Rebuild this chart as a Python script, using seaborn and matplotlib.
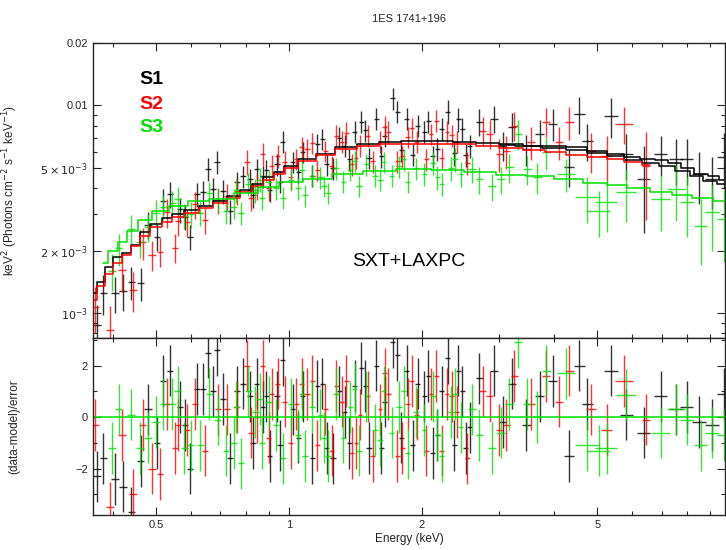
import numpy as np
import seaborn as sns
import matplotlib
matplotlib.use("Agg")
import matplotlib.pyplot as plt
from matplotlib.ticker import FixedLocator, FixedFormatter, NullFormatter

# ---------------- S1 (black) : energy (keV), half bin width, flux (1e-3), rel. error, residual
s1_energy = [0.368, 0.380, 0.404, 0.421, 0.440, 0.462,
             0.480, 0.503, 0.519, 0.538, 0.567, 0.582, 0.597, 0.619, 0.639, 0.656, 0.673,
             0.687, 0.709, 0.736, 0.763, 0.787, 0.816, 0.846, 0.873, 0.906, 0.940, 0.969,
             1.02, 1.076, 1.13, 1.19, 1.26, 1.34, 1.41, 1.46, 1.52, 1.58, 1.65, 1.72,
             1.76, 1.85, 1.91, 1.96, 2.03, 2.12, 2.22, 2.29, 2.37, 2.47, 2.57,
             2.70, 2.92, 3.05, 3.21, 3.45, 3.70, 3.96, 4.32, 4.55, 4.75,
             5.38, 5.82, 6.38, 6.97, 7.54, 7.98, 8.51, 9.10, 9.70,
             # extra bins in the crowded middle
             0.83, 0.89, 0.955, 1.05, 1.16, 1.22, 1.30, 1.37, 1.49, 1.62,
             1.80, 2.07, 2.17, 2.42, 2.52]
s1_width = [0.007, 0.007, 0.008, 0.008, 0.008, 0.009,
            0.009, 0.009, 0.009, 0.009, 0.009, 0.009, 0.010, 0.010, 0.010, 0.010, 0.010,
            0.010, 0.011, 0.011, 0.011, 0.011, 0.012, 0.012, 0.012, 0.012, 0.013, 0.013,
            0.014, 0.014, 0.015, 0.016, 0.017, 0.018, 0.018, 0.019, 0.020, 0.020, 0.021, 0.022,
            0.022, 0.023, 0.024, 0.025, 0.026, 0.027, 0.028, 0.030, 0.030, 0.032, 0.035,
            0.05, 0.06, 0.06, 0.07, 0.08, 0.09, 0.10, 0.12, 0.13, 0.14,
            0.19, 0.20, 0.22, 0.24, 0.27, 0.28, 0.30, 0.32, 0.34,
            0.012, 0.012, 0.013, 0.014, 0.015, 0.016, 0.017, 0.018, 0.019, 0.020,
            0.022, 0.026, 0.027, 0.030, 0.032]
s1_flux = [0.88, 1.25, 1.25, 1.28, 1.41, 1.40,
           2.67, 2.34, 3.46, 3.74, 3.16, 2.92, 2.34, 3.74, 3.82, 4.95, 3.96,
           5.35, 3.87, 3.10, 4.28, 4.57, 4.42, 4.95, 4.57, 3.90, 5.20, 6.70,
           5.35, 5.98, 4.60, 6.90, 5.00, 6.40, 7.48, 8.36, 5.60, 8.65, 7.15, 10.8,
           9.35, 8.65, 5.80, 8.00, 7.48, 5.70, 7.73, 9.35, 5.90, 7.73, 6.40,
           8.36, 8.65, 6.40, 7.91, 6.18, 7.31, 8.18, 5.06, 9.14, 6.76,
           8.94, 5.85, 4.42, 5.85, 5.53, 5.53, 4.68, 4.42, 5.65,
           3.70, 4.90, 4.30, 4.80, 6.50, 5.20, 7.00, 5.50, 7.60, 5.70,
           6.10, 8.40, 6.20, 8.60, 5.80]
s1_relerr = [0.25, 0.22, 0.20, 0.20, 0.18, 0.18,
             0.15, 0.15, 0.14, 0.14, 0.14, 0.14, 0.14, 0.13, 0.13, 0.13, 0.13,
             0.13, 0.13, 0.13, 0.12, 0.12, 0.12, 0.12, 0.12, 0.12, 0.12, 0.12,
             0.12, 0.12, 0.12, 0.12, 0.12, 0.12, 0.12, 0.12, 0.12, 0.12, 0.12, 0.12,
             0.12, 0.12, 0.12, 0.12, 0.12, 0.12, 0.13, 0.13, 0.13, 0.13, 0.13,
             0.15, 0.15, 0.16, 0.16, 0.17, 0.17, 0.18, 0.20, 0.20, 0.20,
             0.22, 0.25, 0.45, 0.22, 0.25, 0.25, 0.28, 0.28, 0.30,
             0.13, 0.12, 0.12, 0.12, 0.12, 0.12, 0.12, 0.12, 0.12, 0.12,
             0.12, 0.12, 0.13, 0.13, 0.13]
s1_resid = [-2.3, -1.6, -2.4, -2.7, -3.7, -1.7,
            0.3, -1.0, 1.4, 1.8, 0.4, -0.3, -2.0, 1.1, 1.1, 2.5, 1.0,
            2.6, 0.7, -1.6, 1.0, 1.3, 0.8, 1.3, 0.4, -1.5, 0.8, 2.2,
            0.3, 0.8, -1.6, 1.3, -1.6, 0.2, 1.2, 1.9, -1.2, 2.0, 0.6, 2.9,
            2.4, 1.8, -1.1, 1.3, 0.8, -1.4, 1.0, 2.3, -1.1, 1.0, -0.4,
            1.5, 1.8, -0.2, 1.3, -0.3, 0.8, 1.4, -1.5, 2.0, 0.5,
            1.8, 0.1, -0.6, 0.8, 0.3, 0.4, -0.2, -0.3, 0.9,
            -1.0, 0.8, -1.1, -0.8, 1.2, -1.2, 1.0, -1.0, 1.2, -1.2,
            -0.8, 1.6, -0.7, 1.8, -1.2]

# ---------------- S2 (red)
s2_energy = [0.364, 0.394, 0.419, 0.444, 0.467, 0.490, 0.511, 0.530, 0.552, 0.561,
             0.588, 0.613, 0.646, 0.690, 0.724, 0.763, 0.804, 0.846, 0.873, 0.915,
             0.944, 0.979, 1.04, 1.10, 1.16, 1.21, 1.28, 1.32, 1.39, 1.45,
             1.51, 1.61, 1.68, 1.76, 1.86, 1.95, 2.05, 2.16, 2.28, 2.40,
             2.54, 2.75, 2.85, 3.00, 3.11, 3.24, 3.54, 3.83, 4.10, 4.32,
             4.84, 5.25, 5.76, 6.45,
             # extra bins in the crowded middle
             0.82, 0.90, 1.01, 1.07, 1.13, 1.25, 1.35, 1.42, 1.55, 1.65,
             1.81, 1.90, 2.10, 2.22, 2.34]
s2_width = [0.008, 0.008, 0.008, 0.009, 0.009, 0.009, 0.009, 0.009, 0.009, 0.009,
            0.010, 0.010, 0.010, 0.011, 0.011, 0.011, 0.012, 0.012, 0.012, 0.013,
            0.013, 0.013, 0.014, 0.015, 0.015, 0.016, 0.017, 0.017, 0.018, 0.018,
            0.019, 0.020, 0.021, 0.022, 0.022, 0.023, 0.024, 0.025, 0.026, 0.028,
            0.030, 0.05, 0.05, 0.05, 0.06, 0.06, 0.07, 0.08, 0.09, 0.10,
            0.12, 0.15, 0.28, 0.15,
            0.012, 0.012, 0.013, 0.014, 0.015, 0.016, 0.017, 0.018, 0.019, 0.020,
            0.022, 0.023, 0.025, 0.026, 0.027]
s2_flux = [1.07, 0.83, 1.62, 1.30, 2.19, 1.91, 1.98, 3.06, 2.07, 2.77,
           2.74, 3.34, 2.80, 3.50, 3.66, 3.87, 5.35, 4.09, 5.85, 5.12,
           5.72, 5.35, 5.53, 6.18, 4.90, 6.05, 7.15, 6.69, 5.20, 6.40,
           7.15, 6.69, 7.48, 5.40, 7.07, 6.69, 5.50, 8.45, 7.48, 6.69,
           5.30, 7.56, 7.31, 5.85, 6.05, 8.00, 6.69, 8.36, 6.69, 8.36,
           6.05, 5.72, 8.18, 5.12,
           3.60, 4.00, 4.50, 6.30, 6.60, 5.10, 7.40, 5.60, 5.40, 7.90,
           5.70, 7.80, 7.30, 5.60, 7.20]
s2_relerr = [0.25, 0.30, 0.22, 0.22, 0.18, 0.16, 0.16, 0.16, 0.16, 0.15,
             0.15, 0.15, 0.14, 0.14, 0.14, 0.14, 0.14, 0.14, 0.13, 0.13,
             0.13, 0.13, 0.12, 0.12, 0.12, 0.12, 0.12, 0.12, 0.12, 0.12,
             0.12, 0.12, 0.12, 0.12, 0.12, 0.12, 0.12, 0.12, 0.12, 0.12,
             0.13, 0.16, 0.16, 0.18, 0.18, 0.16, 0.18, 0.16, 0.18, 0.18,
             0.22, 0.25, 0.20, 0.45,
             0.14, 0.13, 0.13, 0.12, 0.12, 0.12, 0.12, 0.12, 0.12, 0.12,
             0.12, 0.12, 0.12, 0.12, 0.12]
s2_resid = [-0.3, -3.5, -0.7, -3.0, -0.3, -2.0, -2.2, 0.5, -1.2, -0.3,
            -0.5, 0.5, -1.3, 0.3, 0.3, 0.4, 2.0, 0.0, 2.0, 0.9,
            1.3, 0.6, 0.5, 0.9, -1.1, 0.3, 1.2, 0.6, -1.4, 0.1,
            0.8, 0.3, 0.9, -1.5, 0.5, 0.1, -1.3, 1.6, 0.9, 0.2,
            -1.6, 1.0, 0.8, -0.5, -0.3, 1.6, 0.5, 1.6, 0.6, 1.8,
            0.3, -0.5, 1.4, -0.1,
            -0.6, -0.8, -1.0, 1.3, 1.4, -1.3, 1.4, -1.0, -1.5, 1.7,
            -1.2, 1.4, 0.9, -1.3, 0.8]

# ---------------- S3 (green)
s3_energy = [0.398, 0.412, 0.440, 0.460, 0.480, 0.500, 0.520, 0.545, 0.560, 0.580,
             0.600, 0.630, 0.660, 0.690, 0.720, 0.750, 0.780, 0.810, 0.840, 0.870,
             0.900, 0.935, 0.970, 1.01, 1.05, 1.09, 1.13, 1.18, 1.23, 1.28,
             1.33, 1.38, 1.44, 1.50, 1.57, 1.64, 1.71, 1.78, 1.86, 1.94,
             2.03, 2.12, 2.22, 2.33, 2.45, 2.60, 2.70, 2.89, 3.03, 3.16,
             3.30, 3.47, 3.66, 3.83, 4.25, 4.75, 5.05, 5.25, 5.82, 6.97,
             7.54, 7.98, 8.58, 9.10, 9.70,
             # extra bins in the crowded middle
             0.76, 0.86, 1.07, 1.20, 1.41, 1.61, 1.82, 2.17, 2.38]
s3_width = [0.008, 0.008, 0.009, 0.009, 0.009, 0.010, 0.010, 0.010, 0.010, 0.010,
            0.011, 0.011, 0.012, 0.012, 0.012, 0.013, 0.013, 0.014, 0.014, 0.014,
            0.015, 0.015, 0.016, 0.016, 0.017, 0.017, 0.018, 0.018, 0.019, 0.020,
            0.020, 0.021, 0.022, 0.022, 0.023, 0.024, 0.025, 0.026, 0.027, 0.028,
            0.030, 0.031, 0.032, 0.034, 0.036, 0.05, 0.05, 0.06, 0.06, 0.07,
            0.07, 0.08, 0.08, 0.09, 0.20, 0.30, 0.30, 0.30, 0.30, 0.35,
            0.35, 0.30, 0.30, 0.35, 0.38,
            0.013, 0.014, 0.017, 0.018, 0.021, 0.023, 0.026, 0.031, 0.034]
s3_flux = [1.60, 2.05, 2.55, 2.20, 2.60, 3.05, 3.25, 3.40, 3.55, 2.95,
           3.00, 3.05, 3.80, 3.50, 3.10, 3.25, 3.05, 4.20, 3.90, 3.60,
           4.30, 4.00, 3.60, 4.40, 4.00, 3.70, 4.60, 4.50, 3.80, 5.00,
           4.30, 4.90, 4.10, 5.20, 4.60, 5.35, 4.60, 5.10, 4.30, 5.00,
           4.70, 5.30, 4.20, 5.00, 4.70, 4.95, 4.42, 4.09, 4.42, 5.06,
           7.30, 4.95, 4.52, 5.98, 4.68, 3.62, 3.10, 3.42, 3.82, 3.54,
           3.96, 3.42, 2.62, 3.06, 2.84,
           3.90, 4.40, 4.90, 4.10, 5.40, 4.40, 5.50, 4.50, 5.50]
s3_relerr = [0.20, 0.18, 0.16, 0.16, 0.15, 0.15, 0.14, 0.14, 0.14, 0.14,
             0.14, 0.14, 0.13, 0.13, 0.13, 0.13, 0.13, 0.13, 0.13, 0.13,
             0.12, 0.12, 0.12, 0.12, 0.12, 0.12, 0.12, 0.12, 0.12, 0.12,
             0.12, 0.12, 0.12, 0.12, 0.12, 0.12, 0.12, 0.12, 0.12, 0.12,
             0.13, 0.13, 0.13, 0.13, 0.14, 0.14, 0.15, 0.15, 0.15, 0.16,
             0.16, 0.16, 0.17, 0.18, 0.18, 0.25, 0.25, 0.28, 0.28, 0.30,
             0.30, 0.32, 0.35, 0.35, 0.38,
             0.13, 0.13, 0.12, 0.12, 0.12, 0.12, 0.12, 0.13, 0.13]
s3_resid = [-1.2, 0.3, 0.1, -1.2, -0.8, -0.2, 0.5, 0.5, 1.0, -1.2,
            -1.1, -1.1, 0.9, -0.1, -1.3, -1.0, -1.8, 1.0, 0.2, -1.0,
            0.6, -0.3, -1.6, 0.5, -0.7, -1.5, 0.4, 0.1, -1.5, 0.9,
            -0.8, 0.4, -1.3, 0.8, -0.5, 1.0, -0.6, 0.4, -1.4, 0.2,
            -0.5, 0.8, -1.5, 0.2, -0.4, 0.3, -0.7, -1.2, -0.6, 0.5,
            2.9, 0.5, 0.0, 1.8, 1.7, -1.1, -1.3, -1.2, 0.85, -0.6,
            0.3, -0.1, -1.1, -0.6, -0.7,
            0.4, 0.7, 0.9, -0.8, 1.1, -0.9, 1.0, -0.7, 0.9]

# ---------------- folded model step curves (flux in 1e-3)
s1_model_energy = [0.36, 0.375, 0.39, 0.41, 0.43, 0.45, 0.47, 0.50, 0.53, 0.56, 0.60,
                   0.65, 0.70, 0.75, 0.80, 0.85, 0.90, 0.95, 1.0, 1.1, 1.2, 1.35,
                   1.5, 1.7, 1.9, 2.2, 2.5, 2.8, 3.2, 3.6, 4.0, 4.5, 5.0, 5.5,
                   6.0, 6.5, 7.0, 7.5, 8.0, 8.6, 9.2, 9.7]
s1_model_flux = [1.25, 1.41, 1.67, 1.87, 1.95, 2.14, 2.47, 2.70, 2.86, 3.00, 3.15,
                 3.27, 3.45, 3.65, 3.90, 4.20, 4.50, 4.80, 5.10, 5.50, 5.85, 6.30,
                 6.55, 6.70, 6.76, 6.76, 6.70, 6.60, 6.50, 6.40, 6.35, 6.30, 6.05, 5.85,
                 5.65, 5.55, 5.45, 5.30, 5.00, 4.70, 4.55, 4.40]
s1_lx_energy = [3.0, 3.5, 4.0, 4.5, 5.0, 5.5, 6.0, 6.6, 7.2, 7.8, 8.4, 9.0, 9.7]
s1_lx_flux = [6.45, 6.35, 6.25, 6.10, 5.90, 5.70, 5.45, 5.30, 5.10, 4.85, 4.55, 4.35, 4.20]

s2_model_energy = [0.36, 0.375, 0.39, 0.41, 0.43, 0.45, 0.47, 0.50, 0.53, 0.56, 0.60,
                   0.65, 0.70, 0.75, 0.80, 0.85, 0.90, 0.95, 1.0, 1.1, 1.2, 1.35,
                   1.5, 1.7, 1.9, 2.2, 2.5, 2.8, 3.2, 3.6, 4.0, 4.5, 5.0, 5.5, 6.0, 6.6]
s2_model_flux = [1.16, 1.35, 1.55, 1.75, 1.90, 2.10, 2.35, 2.60, 2.75, 2.90, 3.05,
                 3.20, 3.40, 3.60, 3.85, 4.10, 4.40, 4.70, 5.00, 5.40, 5.80, 6.15,
                 6.35, 6.50, 6.55, 6.55, 6.50, 6.40, 6.25, 6.10, 5.95, 5.80, 5.65, 5.55, 5.35, 5.17]

s3_model_energy = [0.38, 0.40, 0.42, 0.44, 0.47, 0.51, 0.56, 0.62, 0.70, 0.80, 0.90,
                   1.0, 1.15, 1.35, 1.6, 1.9, 2.3, 2.7, 3.2, 3.7, 4.3, 5.0, 5.5,
                   6.2, 7.0, 7.8, 8.6, 9.7]
s3_model_flux = [1.75, 2.00, 2.20, 2.50, 2.80, 3.10, 3.27, 3.45, 3.55, 3.80, 4.05,
                 4.30, 4.45, 4.68, 4.85, 4.95, 4.90, 4.80, 4.65, 4.55, 4.42, 4.25, 4.15,
                 4.00, 3.85, 3.70, 3.60, 3.45]

BLACK, RED, GREEN = "#000000", "#ff0000", "#00e000"

sns.set_style("ticks")
plt.rcParams['font.family'] = ['Liberation Sans', 'DejaVu Sans']
plt.rcParams['mathtext.fontset'] = 'dejavusans'

fig = plt.figure(figsize=(7.26, 5.5), dpi=100)
ax = fig.add_axes([0.128, 0.3855, 0.871, 0.5365])
axr = fig.add_axes([0.128, 0.0636, 0.871, 0.3219], sharex=ax)
ax.set_xscale("log")
ax.set_yscale("log")


def draw_series(energy, width, flux, relerr, resid, color):
    e = np.array(energy)
    f = np.array(flux) * 1e-3
    ax.errorbar(e, f, xerr=width, yerr=f * np.array(relerr), fmt="none",
                ecolor=color, elinewidth=1.0, capsize=0, alpha=0.8)
    axr.errorbar(e, resid, xerr=width, yerr=1.0, fmt="none",
                 ecolor=color, elinewidth=1.0, capsize=0, alpha=0.8)


def draw_model(energy, flux, color):
    sns.lineplot(x=np.array(energy), y=np.array(flux) * 1e-3, ax=ax, color=color,
                 drawstyle="steps-mid", linewidth=1.1, estimator=None)


draw_series(s1_energy, s1_width, s1_flux, s1_relerr, s1_resid, BLACK)
draw_series(s2_energy, s2_width, s2_flux, s2_relerr, s2_resid, RED)
draw_series(s3_energy, s3_width, s3_flux, s3_relerr, s3_resid, GREEN)
draw_model(s1_model_energy, s1_model_flux, BLACK)
draw_model(s1_lx_energy, s1_lx_flux, BLACK)
draw_model(s2_model_energy, s2_model_flux, RED)
draw_model(s3_model_energy, s3_model_flux, GREEN)
axr.axhline(0, color=GREEN, lw=1.1)

ax.set_xlim(0.36, 9.75)
ax.set_ylim(7.6e-4, 0.02)
axr.set_ylim(-3.8, 3.07)

# ticks, XSPEC-like
ax.yaxis.set_major_locator(FixedLocator([1e-3, 2e-3, 5e-3, 0.01, 0.02]))
ax.yaxis.set_major_formatter(FixedFormatter([r"$10^{-3}$", r"$2\times10^{-3}$",
                                             r"$5\times10^{-3}$", "0.01", "0.02"]))
ax.yaxis.set_minor_locator(FixedLocator([8e-4, 9e-4, 3e-3, 4e-3, 6e-3, 7e-3, 8e-3, 9e-3]))
ax.yaxis.set_minor_formatter(NullFormatter())
axr.xaxis.set_major_locator(FixedLocator([0.5, 1, 2, 5]))
axr.xaxis.set_major_formatter(FixedFormatter(["0.5", "1", "2", "5"]))
axr.xaxis.set_minor_locator(FixedLocator([0.4, 0.6, 0.7, 0.8, 0.9, 3, 4, 6, 7, 8, 9]))
axr.xaxis.set_minor_formatter(NullFormatter())
axr.yaxis.set_major_locator(FixedLocator([-2, 0, 2]))
axr.yaxis.set_minor_locator(FixedLocator([-3, -1, 1, 3]))
plt.setp(ax.get_xticklabels(), visible=False)

for a in (ax, axr):
    a.tick_params(which="both", direction="in", top=True, right=True, labelsize=8)
    a.tick_params(which="major", length=6, width=0.8)
    a.tick_params(which="minor", length=3, width=0.8)
    for s in a.spines.values():
        s.set_linewidth(1.0)

ax.set_ylabel(r"keV$^2$ (Photons cm$^{-2}$ s$^{-1}$ keV$^{-1}$)", fontsize=8.5)
axr.set_ylabel("(data-model)/error", fontsize=8.5)
ax.yaxis.set_label_coords(-0.115, 0.5)
axr.yaxis.set_label_coords(-0.115, 0.5)
axr.set_xlabel("Energy (keV)", fontsize=8.5, labelpad=2)
ax.set_title("1ES 1741+196", fontsize=8, pad=15)

ax.text(0.074, 0.875, "S1", color=BLACK, fontsize=14, fontweight="bold",
        transform=ax.transAxes, va="center")
ax.text(0.074, 0.79, "S2", color=RED, fontsize=14, fontweight="bold",
        transform=ax.transAxes, va="center")
ax.text(0.074, 0.712, "S3", color=GREEN, fontsize=14, fontweight="bold",
        transform=ax.transAxes, va="center")
ax.text(0.50, 0.258, "SXT+LAXPC", color="black", fontsize=14,
        transform=ax.transAxes, ha="center", va="center")

fig.savefig("out.png", dpi=100)
